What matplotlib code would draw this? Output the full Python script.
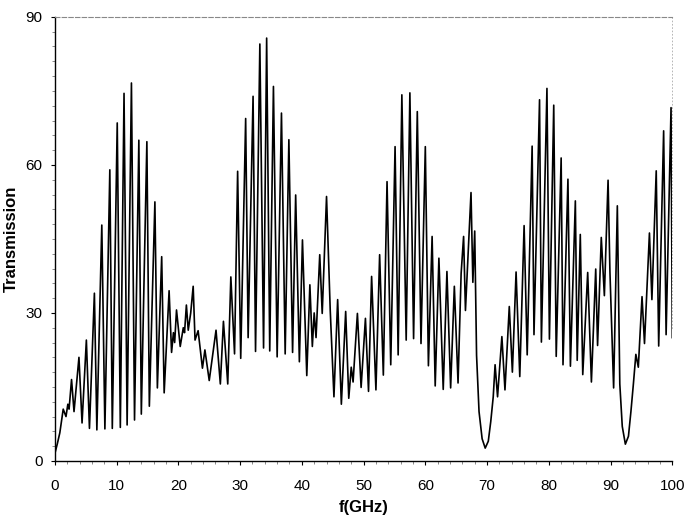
import matplotlib
matplotlib.use("Agg")
import matplotlib.pyplot as plt
from matplotlib.ticker import MultipleLocator

freq = [0.0, 0.4, 0.8, 1.35, 1.8, 2.1, 2.3, 2.7, 3.1, 3.9, 4.4, 5.1, 5.6, 6.4, 6.8,
        7.6, 8.1, 8.9, 9.3, 10.1, 10.6, 11.2, 11.7, 12.4, 12.9, 13.6, 14.0, 14.9, 15.3,
        16.2, 16.6, 17.3, 17.7, 18.5, 18.9, 19.2, 19.4, 19.7, 20.3, 20.8, 21.0, 21.3,
        21.6, 22.0, 22.4, 22.7, 23.2, 23.9, 24.3, 25.0, 25.6, 26.1, 26.8, 27.3, 28.0,
        28.5, 29.1, 29.6, 30.1, 30.9, 31.3, 32.1, 32.5, 33.2, 33.8, 34.3, 34.8, 35.4,
        36.0, 36.7, 37.3, 37.9, 38.5, 39.0, 39.6, 40.1, 40.8, 41.3, 41.7, 42.0, 42.3,
        42.9, 43.3, 44.0, 44.6, 45.2, 45.8, 46.4, 47.1, 47.6, 48.0, 48.3, 49.0, 49.6,
        50.3, 50.8, 51.3, 52.0, 52.6, 53.2, 53.8, 54.4, 55.1, 55.6, 56.2, 56.9, 57.5,
        58.1, 58.7, 59.3, 60.0, 60.5, 61.1, 61.6, 62.2, 62.9, 63.5, 64.1, 64.7, 65.3,
        65.8, 66.2, 66.5, 67.4, 67.7, 68.0, 68.3, 68.7, 69.2, 69.7, 70.2, 70.6, 71.0,
        71.3, 71.7, 72.4, 72.9, 73.6, 74.1, 74.7, 75.3, 76.0, 76.5, 77.3, 77.6, 78.5,
        78.8, 79.7, 80.1, 80.8, 81.2, 82.0, 82.3, 83.1, 83.5, 84.3, 84.6, 85.1, 85.5,
        86.3, 86.9, 87.6, 87.9, 88.5, 89.0, 89.6, 89.9, 90.5, 91.1, 91.5, 91.9, 92.4,
        92.9, 93.3, 93.7, 94.1, 94.5, 95.1, 95.5, 96.3, 96.7, 97.4, 97.8, 98.6, 99.0,
        99.8, 100.0]

transmission = [1.5, 3.5, 5.7, 10.5, 9.0, 11.5, 10.5, 16.5, 10.0, 21.0, 7.7, 24.5, 6.6,
                34.0, 6.3, 47.8, 6.5, 59.0, 6.6, 68.5, 6.8, 74.5, 7.3, 76.6, 8.3, 65.0,
                9.5, 64.7, 11.1, 52.5, 14.8, 41.4, 13.8, 34.5, 22.0, 26.0, 24.0, 30.6,
                23.2, 27.0, 26.0, 31.6, 26.5, 30.0, 35.4, 24.5, 26.4, 18.8, 22.5, 16.3,
                21.8, 26.5, 15.6, 28.3, 15.6, 37.3, 21.7, 58.7, 20.8, 69.4, 25.0, 73.9,
                22.2, 84.5, 22.9, 85.7, 22.3, 75.9, 21.1, 70.5, 21.7, 65.1, 22.0, 53.9,
                20.1, 44.8, 17.3, 35.7, 23.2, 30.0, 25.0, 41.8, 29.9, 53.6, 30.5, 13.0,
                32.7, 11.5, 30.3, 12.7, 19.0, 16.0, 29.9, 14.9, 28.9, 14.1, 37.4, 14.4,
                41.8, 17.4, 56.6, 19.5, 63.7, 21.5, 74.2, 24.5, 74.6, 24.8, 70.8, 23.8,
                63.7, 19.3, 45.5, 15.2, 41.1, 14.5, 38.4, 14.8, 35.4, 15.8, 38.0, 45.5,
                30.5, 54.4, 36.2, 46.6, 21.4, 10.0, 4.5, 2.6, 4.0, 8.0, 13.0, 19.5, 13.0,
                25.2, 14.4, 31.3, 18.0, 38.3, 17.1, 47.7, 21.5, 63.8, 25.6, 73.2, 24.1,
                75.5, 24.7, 72.1, 21.2, 61.4, 19.5, 57.1, 19.2, 52.7, 20.4, 45.9, 17.5,
                38.2, 16.0, 38.9, 23.4, 45.3, 33.5, 56.9, 38.4, 14.8, 51.7, 15.6, 7.0,
                3.4, 5.0, 10.0, 15.6, 21.6, 19.0, 33.3, 23.8, 46.2, 32.7, 58.8, 23.3,
                66.9, 25.6, 71.6, 25.0]

x_ticks = [0, 10, 20, 30, 40, 50, 60, 70, 80, 90, 100]
y_ticks = [0, 30, 60, 90]

plt.rcParams['font.family'] = ['Liberation Sans', 'DejaVu Sans']

fig = plt.figure(figsize=(6.86, 5.28), dpi=100)
ax = fig.add_axes([0.080, 0.127, 0.900, 0.841])

ax.plot(freq, transmission, color='black', linewidth=1.2)

ax.set_xlim(0, 100)
ax.set_ylim(0, 90)
ax.set_xticks(x_ticks)
ax.set_yticks(y_ticks)
ax.xaxis.set_minor_locator(MultipleLocator(2))
ax.yaxis.set_minor_locator(MultipleLocator(3))
ax.tick_params(axis='both', which='major', labelsize=11, length=3, width=0.8, direction='out')
ax.tick_params(axis='x', which='major', pad=10)
ax.tick_params(axis='y', which='major', pad=6)
ax.tick_params(axis='both', which='minor', length=2, width=0.6, direction='out', color='#777777')

ax.set_xlabel('f(GHz)', fontsize=12, fontweight='bold', labelpad=5)
ax.set_ylabel('Transmission', fontsize=12, fontweight='bold', labelpad=5)

for side in ['left', 'bottom']:
    ax.spines[side].set_color('black')
    ax.spines[side].set_linewidth(1.0)
ax.spines['top'].set_color('#888888')
ax.spines['top'].set_linewidth(0.8)
ax.spines['top'].set_linestyle((0, (4, 2)))
ax.spines['right'].set_color('#aaaaaa')
ax.spines['right'].set_linewidth(0.6)
ax.spines['right'].set_linestyle((0, (1, 3)))
ax.spines['right'].set_bounds(27, 90)

fig.savefig('out.png', dpi=100)
